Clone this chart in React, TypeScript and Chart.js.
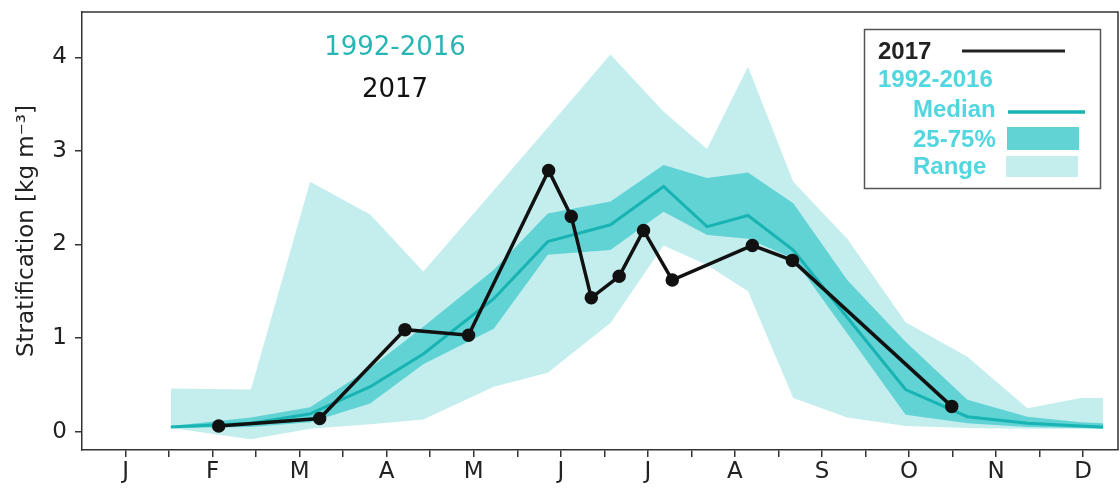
import React, { useEffect, useRef } from 'react';
import { Chart, registerables } from 'chart.js';

Chart.register(...registerables);

const monthLabels = ['J', 'F', 'M', 'A', 'M', 'J', 'J', 'A', 'S', 'O', 'N', 'D'];
const yTicks = [0, 1, 2, 3, 4];

// 1992-2016 climatology, x = months since 1 Jan
const climMonths = [1.02, 1.94, 2.62, 3.31, 3.92, 4.73, 5.35, 6.07, 6.68, 7.18, 7.65, 8.17, 8.79, 9.46, 10.17, 10.86, 11.47, 11.73];
const climMedian = [0.05, 0.09, 0.19, 0.48, 0.83, 1.42, 2.03, 2.21, 2.62, 2.19, 2.31, 1.94, 1.22, 0.45, 0.16, 0.09, 0.06, 0.05];
const climQ75 = [0.06, 0.15, 0.26, 0.68, 1.12, 1.73, 2.33, 2.46, 2.85, 2.71, 2.77, 2.44, 1.62, 0.96, 0.34, 0.16, 0.10, 0.09];
const climQ25 = [0.04, 0.05, 0.10, 0.30, 0.72, 1.10, 1.89, 1.94, 2.35, 2.10, 2.06, 1.85, 1.05, 0.18, 0.09, 0.05, 0.04, 0.03];
const climMax = [0.46, 0.45, 2.67, 2.32, 1.71, 2.58, 3.25, 4.03, 3.42, 3.02, 3.90, 2.67, 2.06, 1.17, 0.80, 0.25, 0.36, 0.36];
const climMin = [0.04, -0.08, 0.03, 0.08, 0.13, 0.48, 0.63, 1.16, 1.99, 1.78, 1.50, 0.36, 0.15, 0.06, 0.04, 0.03, 0.03, 0.03];

// 2017 profiles
const obsMonths = [1.57, 2.73, 3.71, 4.44, 5.36, 5.62, 5.85, 6.17, 6.45, 6.78, 7.70, 8.16, 9.99];
const obs2017 = [0.06, 0.14, 1.09, 1.03, 2.79, 2.30, 1.43, 1.66, 2.15, 1.62, 1.99, 1.83, 0.27];

const RANGE_COLOR = '#c4eeee';
const IQR_COLOR = '#62d3d5';
const MEDIAN_COLOR = '#18b3b3';
const LEGEND_TEXT = '#52d6df';
const AXIS_COLOR = '#333';

const pts = (xs: number[], ys: number[]) => xs.map((x, i) => ({ x, y: ys[i] }));

const band = (data: number[], fill: any, color: string) => ({
  data: pts(climMonths, data),
  borderColor: 'rgba(0,0,0,0)',
  borderWidth: 0,
  backgroundColor: color,
  pointRadius: 0,
  fill,
  tension: 0,
});

const noPad = (scale: any) => {
  scale.paddingTop = 0;
  scale.paddingBottom = 0;
  scale.paddingLeft = 0;
  scale.paddingRight = 0;
};

// top/right spines, in-plot labels and the legend box
const decorPlugin = {
  id: 'decor',
  afterDraw(chart: any) {
    const { ctx, chartArea: a } = chart;
    ctx.save();
    ctx.strokeStyle = AXIS_COLOR;
    ctx.lineWidth = 1.5;
    ctx.beginPath();
    ctx.moveTo(a.left, a.top);
    ctx.lineTo(a.right, a.top);
    ctx.lineTo(a.right, a.bottom);
    ctx.stroke();

    ctx.font = '26px "DejaVu Sans"';
    ctx.textAlign = 'center';
    ctx.textBaseline = 'alphabetic';
    ctx.fillStyle = '#2ab5b5';
    ctx.fillText('1992-2016', 395, 55);
    ctx.fillStyle = '#111';
    ctx.fillText('2017', 395, 97);

    // legend
    ctx.fillStyle = '#fff';
    ctx.fillRect(864, 29, 237, 160);
    ctx.strokeStyle = '#555';
    ctx.lineWidth = 1.5;
    ctx.strokeRect(864.5, 29.5, 236, 159);

    ctx.textAlign = 'left';
    ctx.font = 'bold 24px "Liberation Sans"';
    ctx.fillStyle = '#222';
    ctx.fillText('2017', 878, 59);
    ctx.fillStyle = LEGEND_TEXT;
    ctx.fillText('1992-2016', 878, 87);
    ctx.fillText('Median', 913, 117);
    ctx.fillText('25-75%', 913, 147);
    ctx.fillText('Range', 913, 174);

    ctx.lineCap = 'butt';
    ctx.strokeStyle = '#222';
    ctx.lineWidth = 3;
    ctx.beginPath();
    ctx.moveTo(962, 51);
    ctx.lineTo(1065, 51);
    ctx.stroke();
    ctx.strokeStyle = MEDIAN_COLOR;
    ctx.lineWidth = 3.5;
    ctx.beginPath();
    ctx.moveTo(1008, 112);
    ctx.lineTo(1085, 112);
    ctx.stroke();
    ctx.fillStyle = IQR_COLOR;
    ctx.fillRect(1007, 127, 72, 23);
    ctx.fillStyle = RANGE_COLOR;
    ctx.fillRect(1006, 156, 72, 21);
    ctx.restore();
  },
};

export default function App() {
  const canvasRef = useRef<HTMLCanvasElement>(null);

  useEffect(() => {
    if (!canvasRef.current) return;
    const xTickVals = monthLabels.flatMap((_, i) => [i + 0.5, i + 1]).filter(v => v < 11.9);

    const chart = new Chart(canvasRef.current, {
      type: 'line',
      data: {
        datasets: [
          {
            data: pts(obsMonths, obs2017),
            borderColor: '#111',
            borderWidth: 3.5,
            pointRadius: 5,
            pointBackgroundColor: '#111',
            pointBorderColor: '#111',
            fill: false,
            tension: 0,
          },
          {
            data: pts(climMonths, climMedian),
            borderColor: MEDIAN_COLOR,
            borderWidth: 3,
            pointRadius: 0,
            fill: false,
            tension: 0,
          },
          band(climQ75, '+1', IQR_COLOR),
          band(climQ25, false, IQR_COLOR),
          band(climMax, '+1', RANGE_COLOR),
          band(climMin, false, RANGE_COLOR),
        ] as any,
      },
      options: {
        animation: false,
        responsive: true,
        maintainAspectRatio: false,
        layout: { autoPadding: false, padding: { top: 12, right: 2, left: 0, bottom: 0 } },
        plugins: {
          legend: { display: false },
          tooltip: { enabled: false },
        },
        scales: {
          x: {
            type: 'linear',
            min: 0,
            max: 11.9,
            afterFit: (scale: any) => { scale.height = 39; noPad(scale); },
            afterBuildTicks: (scale: any) => {
              scale.ticks = xTickVals.map(v => ({ value: v }));
            },
            ticks: {
              autoSkip: false,
              maxRotation: 0,
              padding: 1,
              color: '#222',
              font: { family: 'DejaVu Sans', size: 23 },
              callback: (v: any) => (Number(v) % 1 === 0.5 ? monthLabels[Math.floor(Number(v))] : ''),
            },
            grid: { display: true, drawOnChartArea: false, drawTicks: true, tickLength: 7, color: AXIS_COLOR, lineWidth: 1.5 },
            border: { display: true, color: AXIS_COLOR, width: 1.5 },
          },
          y: {
            type: 'linear',
            min: -0.196,
            max: 4.484,
            afterFit: (scale: any) => { scale.width = 82; noPad(scale); },
            afterBuildTicks: (scale: any) => {
              scale.ticks = yTicks.map(v => ({ value: v }));
            },
            ticks: {
              padding: 8,
              color: '#222',
              font: { family: 'DejaVu Sans', size: 23 },
            },
            grid: { display: true, drawOnChartArea: false, drawTicks: true, tickLength: 7, color: AXIS_COLOR, lineWidth: 1.5 },
            border: { display: true, color: AXIS_COLOR, width: 1.5 },
            title: {
              display: true,
              text: 'Stratification [kg m⁻³]',
              color: '#222',
              font: { family: 'DejaVu Sans', size: 23 },
              padding: { top: 13, bottom: 0 },
            },
          },
        },
      },
      plugins: [decorPlugin],
    });

    return () => {
      chart.destroy();
    };
  }, []);

  return (
    <div style={{ position: 'absolute', left: 0, top: 0, width: 1120, height: 489, background: '#fff' }}>
      <canvas ref={canvasRef}></canvas>
    </div>
  );
}
